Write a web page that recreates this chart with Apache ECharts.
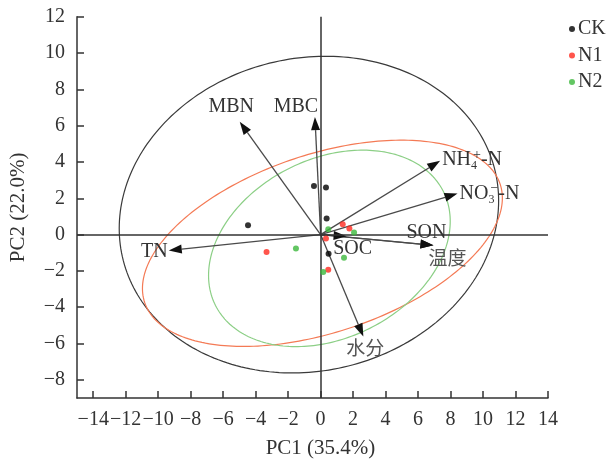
<!DOCTYPE html>
<html>
<head>
<meta charset="utf-8">
<script src="https://cdn.jsdelivr.net/npm/echarts@6/dist/echarts.min.js"></script>
<style>html,body{margin:0;padding:0;background:#fff}#c{width:608px;height:459px}</style>
</head>
<body>
<div id="c"></div>
<script>
// ---- data ----
const xTicks = [-14,-12,-10,-8,-6,-4,-2,0,2,4,6,8,10,12,14];
const yTicks = [-8,-6,-4,-2,0,2,4,6,8,10,12];
const groups = ['CK','N1','N2'];
const ckPoints = [[-4.47,0.51],[-0.41,2.68],[0.33,2.59],[0.37,0.88],[0.49,-1.05]];
const n1Points = [[-3.33,-0.96],[1.36,0.57],[1.77,0.33],[0.33,-0.22],[0.47,-1.93]];
const n2Points = [[-1.52,-0.77],[0.47,0.29],[2.06,0.11],[1.44,-1.27],[0.16,-2.06]];
// confidence ellipses: centre, horizontal half-extent, vertical half-extent, phase (deg)
const ellipseCx = [-0.72, 0.11, 0.54];
const ellipseCy = [1.1, -0.48, -0.76];
const ellipseW  = [11.68, 11.08, 7.44];
const ellipseH  = [8.72, 5.68, 5.41];
const ellipsePhase = [5, 26, 16];
// loading vectors
const vectorNames = ['MBN','MBC','NH4','NO3','SON','温度','水分','TN','SOC'];
const vectorX = [-4.98,-0.35,7.36,8.43,6.95,6.95,2.63,-9.35,1.6];
const vectorY = [6.21,6.47,4.06,2.26,-0.59,-0.59,-5.61,-0.87,-0.09];

// ---- styles ----
const serif = '"Liberation Serif","Times New Roman",serif';
const cjk = '"Noto Sans CJK SC",sans-serif';
const textColor = '#333';
const pointColors = ['#000000','#ff2a1f','#3cb83c'];
const ellipseColors = ['#3a3a3a','#f47a55','#8ccf86'];
// label placement relative to arrow tip: dx, dy, align
const labelPlace = [[-8.5,-15,'center'],[-19,-10,'center'],[2,-1,'left'],[2,0,'left'],[-7,-12.5,'center'],[14,12,'center'],[2,11,'center'],[-1,1.5,'right'],[6,13,'center']];
const minusFmt = v => String(v).replace('-', '\u2212');

const chart = echarts.init(document.getElementById('c'), null, {renderer:'canvas'});

function renderEllipse(params, api) {
  const cx = api.value(0), cy = api.value(1), w = api.value(2), h = api.value(3);
  const ph = api.value(4) * Math.PI / 180;
  const pts = [];
  const n = 240;
  for (let i = 0; i <= n; i++) {
    const t = i / n * 2 * Math.PI;
    pts.push(api.coord([cx + w * Math.cos(t), cy + h * Math.sin(t + ph)]));
  }
  return {type:'polyline', shape:{points:pts}, style:{stroke:ellipseColors[params.dataIndex], fill:null, lineWidth:1.2}};
}

function labelText(name) {
  if (name === 'NH4') return '{a|NH}{b|4}{c|+}{a|-N}';
  if (name === 'NO3') return '{a|NO}{b|3}{c|\u2212}{a|-N}';
  if (name === '温度' || name === '水分') return '{z|' + name + '}';
  return '{a|' + name + '}';
}
const rich = {
  a: {fontSize:20, fontFamily:serif, fill:textColor, lineHeight:30, verticalAlign:'middle'},
  b: {fontSize:12, fontFamily:serif, fill:textColor, lineHeight:30, verticalAlign:'bottom', width:2, padding:[0,0,3,0]},
  c: {fontSize:14, fontFamily:serif, fill:textColor, lineHeight:30, verticalAlign:'top', padding:[3,0,0,0]},
  z: {fontSize:19, fontFamily:cjk, fill:'#555', lineHeight:30, verticalAlign:'middle'}
};

function renderArrow(params, api) {
  const i = params.dataIndex;
  const o = api.coord([0, 0]);
  const p = api.coord([api.value(0), api.value(1)]);
  const dx = p[0] - o[0], dy = p[1] - o[1];
  const L = Math.hypot(dx, dy);
  const ux = dx / L, uy = dy / L;
  const hl = 13, hw = 4.5;
  const bx = p[0] - ux * hl, by = p[1] - uy * hl;
  const lp = labelPlace[i];
  return {
    type:'group',
    children:[
      {type:'line', shape:{x1:o[0], y1:o[1], x2:bx, y2:by}, style:{stroke:'#4a4a4a', lineWidth:1.3}},
      {type:'polygon', shape:{points:[[p[0],p[1]],[bx - uy*hw, by + ux*hw],[bx + uy*hw, by - ux*hw]]}, style:{fill:'#111'}},
      {type:'text', x:p[0] + lp[0], y:p[1] + lp[1], style:{text:labelText(vectorNames[i]), rich:rich, align:lp[2], verticalAlign:'middle', fontSize:20, fontFamily:serif, fill:textColor}}
    ]
  };
}

const ellipseData = groups.map((g, k) => [ellipseCx[k], ellipseCy[k], ellipseW[k], ellipseH[k], ellipsePhase[k]]);
const arrowData = vectorNames.map((n, k) => [vectorX[k], vectorY[k]]);

const axisLineStyle = {color:'#333', width:1.5};

const option = {
  animation:false,
  backgroundColor:'#fff',
  grid:{left:77, right:60, top:16.7, bottom:61, containLabel:false, outerBoundsMode:'none'},
  legend:{
    data:groups, orient:'vertical', left:564, top:14, icon:'circle', itemWidth:6, itemHeight:6, itemGap:6.5,
    textStyle:{fontSize:20, fontFamily:serif, color:textColor, lineHeight:20, padding:[0,0,0,-2]}
  },
  xAxis:{
    type:'value', min:-15, max:14,
    axisLine:{show:true, onZero:false, lineStyle:axisLineStyle},
    axisTick:{show:true, inside:true, length:7, customValues:xTicks, lineStyle:{color:'#333', width:1.5}},
    axisLabel:{customValues:xTicks, formatter:minusFmt, margin:12, fontSize:20, fontFamily:serif, color:textColor},
    splitLine:{show:false},
    name:'PC1 (35.4%)', nameLocation:'middle', nameGap:40,
    nameTextStyle:{fontSize:21, fontFamily:serif, color:textColor, padding:[0,0,0,16]}
  },
  yAxis:{
    type:'value', min:-9, max:12,
    axisLine:{show:true, onZero:false, lineStyle:axisLineStyle},
    axisTick:{show:true, inside:true, length:7, customValues:yTicks, lineStyle:{color:'#333', width:1.5}},
    axisLabel:{customValues:yTicks, formatter:minusFmt, margin:12, fontSize:20, fontFamily:serif, color:textColor},
    splitLine:{show:false},
    name:'PC2 (22.0%)', nameLocation:'middle', nameGap:48, nameRotate:90,
    nameTextStyle:{fontSize:21, fontFamily:serif, color:textColor}
  },
  series:[
    {
      name:'ellipses', type:'custom', renderItem:renderEllipse, data:ellipseData, silent:true, z:2,
      markLine:{
        silent:true, symbol:['none','none'], label:{show:false},
        lineStyle:{color:'#333', width:1.5, type:'solid'},
        data:[{xAxis:0},{yAxis:0}]
      }
    },
    {name:'CK', type:'scatter', data:ckPoints, symbolSize:6, itemStyle:{color:pointColors[0]}, z:5},
    {name:'N1', type:'scatter', data:n1Points, symbolSize:6, itemStyle:{color:pointColors[1]}, z:5},
    {name:'N2', type:'scatter', data:n2Points, symbolSize:6, itemStyle:{color:pointColors[2]}, z:5},
    {name:'loadings', type:'custom', renderItem:renderArrow, data:arrowData, silent:true, z:4}
  ]
};
chart.setOption(option);
</script>
</body>
</html>
